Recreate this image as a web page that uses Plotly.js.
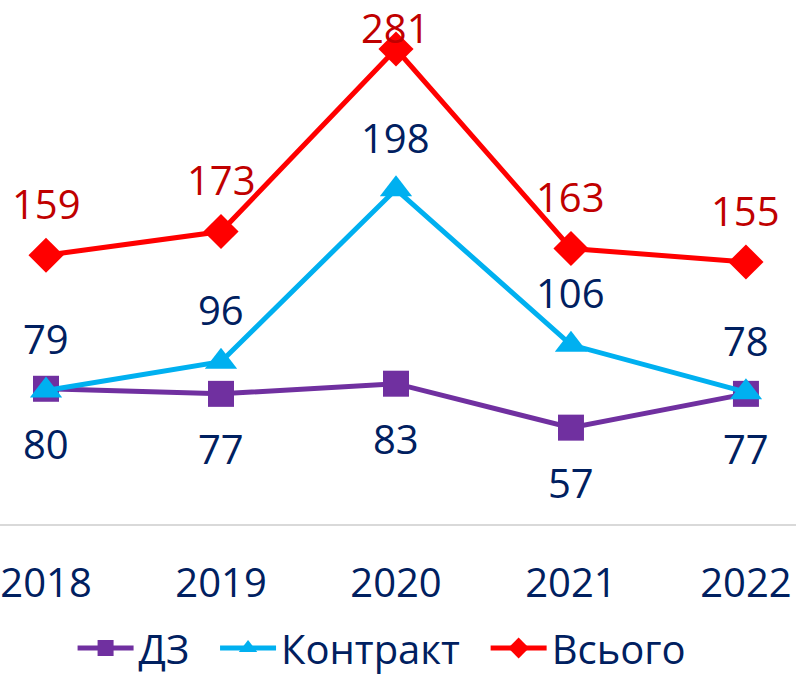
<!DOCTYPE html>
<html>
<head>
<meta charset="utf-8">
<script src="https://cdn.plot.ly/plotly-3.0.1.min.js"></script>
<style>html,body{margin:0;padding:0;background:#fff;}#chart{width:796px;height:675px;}</style>
</head>
<body>
<div id="chart"></div>
<script>
const years = ["2018", "2019", "2020", "2021", "2022"];
const dz = [80, 77, 83, 57, 77];
const kontrakt = [79, 96, 198, 106, 78];
const vsogo = [159, 173, 281, 163, 155];
const seriesNames = ["ДЗ", "Контракт", "Всього"];

const navy = "#002060";
const FONT = "Open Sans, sans-serif";
const yMax = 310;
const plotH = 524;
const pad = "\u00a0\u00a0";

function labelShift(v, dir) {
  // returns pixel offset of label centre from point (positive = up)
  const px = plotH - v / yMax * plotH;
  if (dir > 0) return -55;
  let up = 52;
  if (px - up < 27) up = px - 27;
  return up;
}

const traces = [
  {name: seriesNames[0] + pad, x: years, y: dz, type: "scatter", mode: "lines+markers",
   line: {color: "#7030A0", width: 5}, marker: {symbol: "square", size: 26, color: "#7030A0"}},
  {name: seriesNames[1] + pad, x: years, y: kontrakt, type: "scatter", mode: "lines+markers",
   line: {color: "#00B0F0", width: 5}, marker: {symbol: "triangle-up", size: 28, color: "#00B0F0"}},
  {name: seriesNames[2], x: years, y: vsogo, type: "scatter", mode: "lines+markers",
   line: {color: "#FF0000", width: 5}, marker: {symbol: "diamond", size: 27, color: "#FF0000"}}
];

const annotations = [];
function addLabels(vals, dir, color) {
  vals.forEach((v, i) => {
    annotations.push({x: i, y: v, xref: "x", yref: "y", text: String(v), showarrow: false,
      yshift: labelShift(v, dir), yanchor: "middle", xanchor: "center",
      font: {family: FONT, size: 40, color: color}});
  });
}
addLabels(dz, 1, navy);
addLabels(kontrakt, -1, navy);
addLabels(vsogo, -1, "#C00000");

const layout = {
  width: 796, height: 675,
  margin: {l: 0, r: 0, t: 0, b: 151, autoexpand: false},
  paper_bgcolor: "#fff", plot_bgcolor: "#fff",
  showlegend: true,
  legend: {orientation: "h", x: 0.48, xanchor: "center", xref: "paper",
    y: 0.04, yref: "container", yanchor: "middle",
    font: {family: FONT, size: 40, color: navy}, itemwidth: 56},
  xaxis: {type: "category", range: [-0.263, 4.286], showgrid: false, zeroline: false,
    showline: true, linecolor: "#D9D9D9", linewidth: 2,
    ticks: "outside", ticklen: 23, tickcolor: "rgba(0,0,0,0)",
    tickfont: {family: FONT, size: 40, color: navy}},
  yaxis: {range: [0, yMax], showticklabels: false, showline: false, ticks: "", showgrid: false, zeroline: false},
  annotations: annotations
};

Plotly.newPlot("chart", traces, layout, {displayModeBar: false});
</script>
</body>
</html>
